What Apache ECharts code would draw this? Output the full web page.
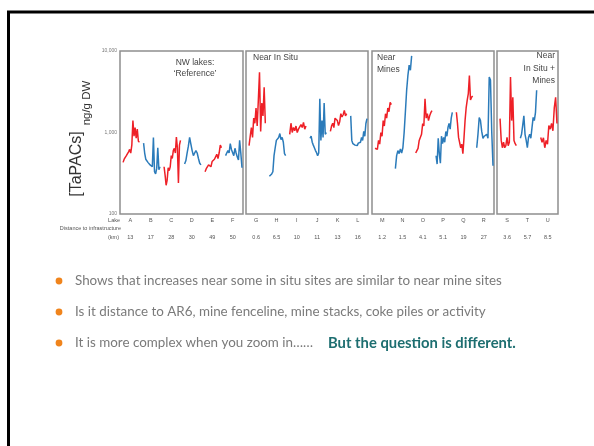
<!DOCTYPE html>
<html><head><meta charset="utf-8">
<script src="https://cdn.jsdelivr.net/npm/echarts@6/dist/echarts.min.js"></script>
<style>html,body{margin:0;padding:0;background:#fff}#c{width:594px;height:446px}</style>
</head><body><div id="c"></div>
<script>
// ---- data ----
const lakeLetters = ['A','B','C','D','E','F','G','H','I','J','K','L','M','N','O','P','Q','R','S','T','U'];
const distanceKm = ['13','17','28','30','49','50','0.6','6.5','10','11','13','16','1.2','1.5','4.1','5.1','19','27','3.6','5.7','8.5'];
const panelNames = [['NW lakes:','\u2018Reference\u2019'],['Near In Situ'],['Near','Mines'],['Near','In Situ +','Mines']];
const panelLakeCounts = [6,6,6,3];
const yTickValues = [100,1000,10000];

const lakeA = [430,470,450,520,500,580,620,560,700,1400,900,1150,850,1100,780,760];
const lakeB = [740,560,470,480,430,440,400,390,380,870,330,310,360,650,350,380];
const lakeC = [380,300,225,260,370,340,380,520,480,600,640,560,880,650,240,700,800];
const lakeD = [410,450,560,680,870,720,600,520,560,600,560,480,420,400];
const lakeE = [330,360,350,400,410,380,440,420,470,450,540,480,560,700,650];
const lakeF = [520,560,600,560,730,620,600,520,640,560,500,460,800,560,370];
const lakeG = [690,900,1150,870,1500,1300,2000,1200,2500,5500,1030,2300,1600,3600,1300];
const lakeH = [290,300,310,330,520,650,800,760,870,970,820,870,760,550,520];
const lakeI = [950,1300,1000,1150,1050,1200,1000,1100,1050,1250,1150,1330,1100,1200];
const lakeJ = [850,900,760,700,650,600,566,520,560,2600,800,1400,870,2300,950,1000];
const lakeK = [1030,1200,1300,1150,1500,1450,1400,1220,1350,1700,1550,1650,1870,1600,1700];
const lakeL = [1600,800,730,760,700,720,690,740,700,760,870,800,1030,900,1290,1480];
const lakeM = [640,660,620,800,720,1000,900,1400,1200,1700,1500,2000,1800,2350,2200];
const lakeN = [360,520,600,550,630,560,650,1000,1800,3300,5000,6700,5800,8700];
const lakeO = [560,600,640,800,760,950,1290,1200,2600,1500,1700,1400,1600,1750,1850];
const lakeP = [520,410,850,550,420,900,730,870,760,1030,900,1150,1290,1100,1500,1770];
const lakeQ = [1770,1300,870,900,650,720,550,850,1400,2000,2500,3000,5000,2500,2700,2800];
const lakeR = [650,950,1530,1400,1030,850,900,870,950,850,4800,4400,1030,390];
const lakeS = [1480,800,650,760,650,690,870,690,760,4800,1400,2700,800,730,690];
const lakeT = [850,950,1220,1600,950,800,650,870,950,850,1150,1530,1400,1770,3300];
const lakeU = [870,760,860,650,800,720,1220,1100,1290,1050,2000,2700,1290];
const lakeSeries = [lakeA,lakeB,lakeC,lakeD,lakeE,lakeF,lakeG,lakeH,lakeI,lakeJ,lakeK,lakeL,lakeM,lakeN,lakeO,lakeP,lakeQ,lakeR,lakeS,lakeT,lakeU];

const bullets = [
  'Shows that increases near some in situ sites are similar to near mine sites',
  'Is it distance to AR6, mine fenceline, mine stacks, coke piles or activity',
  'It is more complex when you zoom in\u2026\u2026'
];
const bulletEmphasis = 'But the question is different.';

// ---- layout ----
const RED = '#ee2027', BLUE = '#2b7bba';
const panelBoxes = [[120,123],[246,122],[372,122],[497,61]];
const gridTop = 51, gridH = 163;
const FONT = 'Liberation Sans';

const grids = [], xAxes = [], yAxes = [], series = [];
let lakeStart = 0;
panelLakeCounts.forEach((cnt, g) => {
  grids.push({left: panelBoxes[g][0], width: panelBoxes[g][1], top: gridTop, height: gridH,
    show: true, borderColor: '#8f8f8f', borderWidth: 1.5});
  const letters = lakeLetters.slice(lakeStart, lakeStart + cnt);
  const dists = distanceKm.slice(lakeStart, lakeStart + cnt);
  xAxes.push({type: 'value', gridIndex: g, min: 0, max: cnt, show: false});
  xAxes.push({type: 'category', gridIndex: g, data: letters, position: 'bottom',
    axisLine: {show: false}, axisTick: {show: false},
    axisLabel: {fontSize: 5.5, color: '#555', margin: 3, interval: 0, fontFamily: FONT}});
  xAxes.push({type: 'category', gridIndex: g, data: dists, position: 'bottom', offset: 17,
    axisLine: {show: false}, axisTick: {show: false},
    axisLabel: {fontSize: 5.5, color: '#555', margin: 3, interval: 0, fontFamily: FONT}});
  yAxes.push({type: 'log', logBase: 10, gridIndex: g, min: yTickValues[0], max: yTickValues[yTickValues.length-1],
    axisLine: {show: false}, axisTick: {show: false}, splitLine: {show: false},
    axisLabel: {show: g === 0, fontSize: 5, color: '#777', margin: 3, fontFamily: FONT,
      formatter: v => Number(v).toLocaleString('en-US')}});
  for (let i = 0; i < cnt; i++) {
    const idx = lakeStart + i;
    const vals = lakeSeries[idx];
    const n = vals.length;
    series.push({type: 'line', name: 'Lake ' + lakeLetters[idx], xAxisIndex: 3*g, yAxisIndex: g,
      data: vals.map((v, k) => [i + 0.15 + 0.8 * k / (n - 1), v]),
      showSymbol: false, silent: true,
      lineStyle: {color: idx % 2 === 0 ? RED : BLUE, width: 1.5},
      itemStyle: {color: idx % 2 === 0 ? RED : BLUE}});
  }
  lakeStart += cnt;
});

const graphic = [];
// slide frame
graphic.push({type: 'line', shape: {x1: 7, y1: 12, x2: 594, y2: 12}, style: {stroke: '#000', lineWidth: 3}});
graphic.push({type: 'line', shape: {x1: 8.5, y1: 11, x2: 8.5, y2: 446}, style: {stroke: '#000', lineWidth: 3}});
// y axis name
graphic.push({type: 'text', x: 77, y: 164, rotation: Math.PI/2,
  style: {text: '[TaPACs]', font: '16px ' + FONT, fill: '#333', align: 'center', verticalAlign: 'middle'}});
graphic.push({type: 'text', x: 87, y: 103, rotation: Math.PI/2,
  style: {text: 'ng/g DW', font: '11.5px ' + FONT, fill: '#333', align: 'center', verticalAlign: 'middle'}});
// panel titles
const tfont = '8.5px ' + FONT;
graphic.push({type:'text', x:195, y:63, style:{text: panelNames[0][0], font: tfont, fill:'#444', align:'center', verticalAlign:'middle'}});
graphic.push({type:'text', x:195, y:74, style:{text: panelNames[0][1], font: tfont, fill:'#444', align:'center', verticalAlign:'middle'}});
graphic.push({type:'text', x:253, y:58, style:{text: panelNames[1][0], font: tfont, fill:'#444', align:'left', verticalAlign:'middle'}});
graphic.push({type:'text', x:377, y:58, style:{text: panelNames[2][0], font: tfont, fill:'#444', align:'left', verticalAlign:'middle'}});
graphic.push({type:'text', x:377, y:70, style:{text: panelNames[2][1], font: tfont, fill:'#444', align:'left', verticalAlign:'middle'}});
panelNames[3].forEach((t, k) => graphic.push({type:'text', x:555, y:56 + 12.5*k, style:{text: t, font: tfont, fill:'#444', align:'right', verticalAlign:'middle'}}));
// row labels
const lfont = '5.5px ' + FONT;
graphic.push({type:'text', x:120, y:220, style:{text:'Lake', font:lfont, fill:'#555', align:'right', verticalAlign:'middle'}});
graphic.push({type:'text', x:121, y:228.5, style:{text:'Distance to infrastructure', font:lfont, fill:'#555', align:'right', verticalAlign:'middle'}});
graphic.push({type:'text', x:119, y:237, style:{text:'(km)', font:lfont, fill:'#555', align:'right', verticalAlign:'middle'}});
// bullets
const bY = [281, 312, 343];
const bfont = '13.4px Lato';
bullets.forEach((t, k) => {
  graphic.push({type:'circle', shape:{cx:59, cy:bY[k], r:3.4}, style:{fill:'#f0841c'}});
  graphic.push({type:'text', x:75, y:bY[k], style:{text:t, font:bfont, fill:'#7a7a7a', align:'left', verticalAlign:'middle'}});
});
graphic.push({type:'text', x:328, y:bY[2], style:{text:bulletEmphasis, font:'bold 14.8px Lato', fill:'#1d6e70', align:'left', verticalAlign:'middle'}});

const chart = echarts.init(document.getElementById('c'), null, {renderer: 'canvas'});
chart.setOption({
  animation: false,
  backgroundColor: '#fff',
  grid: grids, xAxis: xAxes, yAxis: yAxes, series: series, graphic: graphic
});
</script></body></html>
